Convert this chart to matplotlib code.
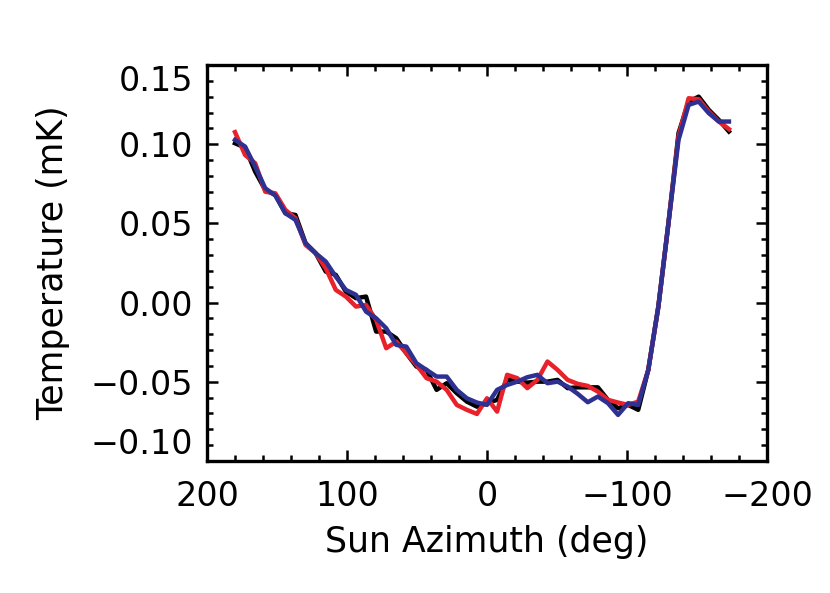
import numpy as np
import matplotlib
matplotlib.use('Agg')
import matplotlib.pyplot as plt
from matplotlib.ticker import MultipleLocator, FixedLocator

plt.rcParams['font.family'] = ['DejaVu Sans']

# sun azimuth bins (deg), 7.2 deg apart
azimuth = [180.0, 172.8, 165.6, 158.4, 151.2, 144.0, 136.8, 129.6, 122.4, 115.2,
           108.0, 100.8, 93.6, 86.4, 79.2, 72.0, 64.8, 57.6, 50.4, 43.2,
           36.0, 28.8, 21.6, 14.4, 7.2, 0.0, -7.2, -14.4, -21.6, -28.8,
           -36.0, -43.2, -50.4, -57.6, -64.8, -72.0, -79.2, -86.4, -93.6, -100.8,
           -108.0, -115.2, -122.4, -129.6, -136.8, -144.0, -151.2, -158.4, -165.6, -172.8]

temp_black = [0.1006, 0.0979, 0.0827, 0.0711, 0.0680, 0.0564, 0.0553, 0.0375, 0.0312, 0.0196,
              0.0175, 0.0069, 0.0028, 0.0038, -0.0183, -0.0183, -0.0225, -0.0320, -0.0404, -0.0425,
              -0.0551, -0.0509, -0.0572, -0.0625, -0.0657, -0.0635, -0.0614, -0.0484, -0.0499, -0.0505,
              -0.0499, -0.0499, -0.0488, -0.0540, -0.0535, -0.0535, -0.0535, -0.0614, -0.0667, -0.0646,
              -0.0677, -0.0425, -0.0025, 0.0501, 0.1070, 0.1269, 0.1300, 0.1217, 0.1153, 0.1080]

temp_red = [0.1076, 0.0932, 0.0880, 0.0700, 0.0690, 0.0585, 0.0533, 0.0364, 0.0312, 0.0217,
            0.0080, 0.0038, -0.0025, -0.0015, -0.0109, -0.0288, -0.0246, -0.0320, -0.0393, -0.0477,
            -0.0499, -0.0551, -0.0646, -0.0677, -0.0703, -0.0604, -0.0688, -0.0456, -0.0477, -0.0540,
            -0.0488, -0.0372, -0.0425, -0.0488, -0.0513, -0.0526, -0.0562, -0.0614, -0.0631, -0.0646,
            -0.0625, -0.0425, -0.0025, 0.0501, 0.1050, 0.1290, 0.1284, 0.1206, 0.1143, 0.1095]

temp_blue = [0.1027, 0.0985, 0.0859, 0.0722, 0.0676, 0.0564, 0.0522, 0.0375, 0.0312, 0.0259,
             0.0164, 0.0080, 0.0049, -0.0057, -0.0099, -0.0162, -0.0267, -0.0278, -0.0383, -0.0425,
             -0.0467, -0.0467, -0.0551, -0.0604, -0.0631, -0.0646, -0.0551, -0.0520, -0.0499, -0.0471,
             -0.0456, -0.0509, -0.0499, -0.0530, -0.0576, -0.0629, -0.0593, -0.0635, -0.0709, -0.0635,
             -0.0646, -0.0425, -0.0025, 0.0501, 0.1027, 0.1248, 0.1269, 0.1196, 0.1143, 0.1143]

fig = plt.figure(figsize=(8.3, 5.93), dpi=100)
ax = fig.add_axes([0.2494, 0.2226, 0.6747, 0.6678])

ax.plot(azimuth, temp_black, color='black', lw=3.2)
ax.plot(azimuth, temp_red, color='#e8212b', lw=3.2)
ax.plot(azimuth, temp_blue, color='#2e3192', lw=3.2)

ax.set_xlim(200, -200)
ax.set_ylim(-0.10, 0.15)

ax.xaxis.set_major_locator(MultipleLocator(100))
ax.xaxis.set_minor_locator(MultipleLocator(20))
ax.yaxis.set_major_locator(FixedLocator([-0.10, -0.05, 0.0, 0.05, 0.10, 0.15]))
ax.yaxis.set_minor_locator(MultipleLocator(0.01))

ax.tick_params(which='both', direction='in', top=True, right=True, width=1.8, labelsize=24)
ax.tick_params(which='major', length=8)
ax.tick_params(which='minor', length=4)
ax.tick_params(axis='x', pad=14)
ax.tick_params(axis='y', pad=10)

ax.set_yticklabels(['\u22120.10', '\u22120.05', '0.00', '0.05', '0.10', '0.15'])
ylabels = ax.get_yticklabels()
ylabels[0].set_va('bottom')
ylabels[-1].set_va('top')

for s in ax.spines.values():
    s.set_linewidth(2.4)

ax.set_xlabel('Sun Azimuth (deg)', fontsize=25, labelpad=8)
ax.set_ylabel('Temperature (mK)', fontsize=25, labelpad=15)

fig.savefig('out.png', dpi=100)
